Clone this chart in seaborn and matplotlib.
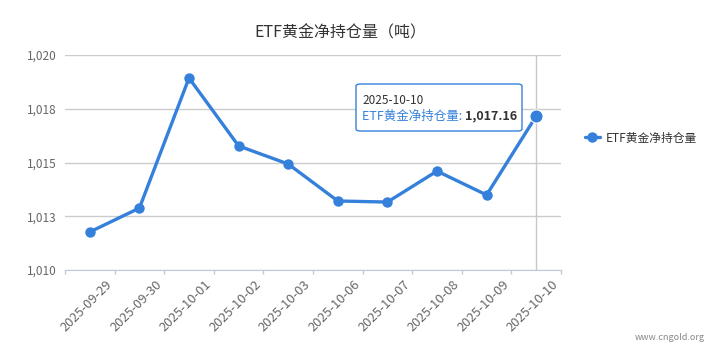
import numpy as np
import pandas as pd
import matplotlib
matplotlib.use("Agg")
import matplotlib.pyplot as plt
import seaborn as sns
from matplotlib.patches import FancyBboxPatch
from matplotlib.ticker import FuncFormatter

# --------------------------
# Data
# --------------------------

dates = [
    "2025-09-29", "2025-09-30", "2025-10-01", "2025-10-02", "2025-10-03",
    "2025-10-06", "2025-10-07", "2025-10-08", "2025-10-09", "2025-10-10",
]
holdings = [1011.77, 1012.88, 1018.93, 1015.77, 1014.93,
            1013.21, 1013.16, 1014.60, 1013.49, 1017.16]
y_ticks = [1010, 1012.5, 1015, 1017.5, 1020]

series_name = "ETF黄金净持仓量"
title = "ETF黄金净持仓量（吨）"

df = pd.DataFrame({"date": dates, "value": holdings})
df["pos"] = np.arange(len(df))

blue = "#3580db"
grid_c = "#cccccc"
axis_c = "#bfc9dc"
label_c = "#666666"

# --------------------------
# Figure
# --------------------------

sns.set_style("white")
plt.rcParams["font.family"] = ["Noto Sans CJK SC", "DejaVu Sans"]

W, H = 721, 355
fig = plt.figure(figsize=(W / 100, H / 100), dpi=100)
ax = fig.add_axes([65 / W, 1 - 270 / H, (561 - 65) / W, (270 - 55) / H])

# crosshair on hovered point
ax.axvline(df["pos"].iloc[-1], color="#c8c8c8", lw=1, zorder=1)

sns.lineplot(
    data=df, x="pos", y="value", ax=ax,
    color=blue, lw=2.4, marker="o", markersize=7.5,
    markeredgewidth=0, label=series_name, zorder=3,
)
# bigger hovered marker
ax.plot(df["pos"].iloc[-1], df["value"].iloc[-1], "o", color=blue,
        markersize=9.5, markeredgecolor="white", markeredgewidth=0.8, zorder=4)

ax.set_xlim(-0.5, len(df) - 0.5)
ax.set_ylim(y_ticks[0], y_ticks[-1])
ax.set_yticks(y_ticks)
ax.yaxis.set_major_formatter(FuncFormatter(lambda v, p: f"{round(v + 1e-9):,}"))
ax.grid(axis="y", color=grid_c, lw=1)
ax.set_axisbelow(True)

# category boundary ticks, labels end at right boundary
ax.set_xticks(np.arange(len(df) + 1) - 0.5)
ax.set_xticklabels([""] + dates, rotation=45, ha="right", va="bottom",
                   rotation_mode="anchor", fontsize=9.3, color=label_c)
ax.tick_params(axis="x", bottom=True, length=3, color=axis_c, width=1,
               direction="out", pad=9)
ax.tick_params(axis="y", length=0, labelsize=8.5, labelcolor=label_c, pad=6)
ax.set_xlabel("")
ax.set_ylabel("")

for s in ["top", "right", "left"]:
    ax.spines[s].set_visible(False)
ax.spines["bottom"].set_color(axis_c)

ax.get_legend().remove()
fig.legend(
    *ax.get_legend_handles_labels(),
    loc="center left", bbox_to_anchor=(574 / W, 1 - 138 / H),
    frameon=False, fontsize=8.5, handlelength=1.3, handletextpad=0.5,
    labelcolor="#333333",
)

fig.text(340 / W, 1 - 33 / H, title, ha="center", va="center",
         fontsize=11.5, color="#333333")
fig.text(705 / W, 1 - 337 / H, "www.cngold.org", ha="right", va="center",
         fontsize=6.5, color="#888888")

# --------------------------
# Tooltip
# --------------------------

box = FancyBboxPatch(
    (356 / W, 1 - 131 / H), (522 - 356) / W, (131 - 84) / H,
    boxstyle="round,pad=0,rounding_size=0.006",
    transform=fig.transFigure, facecolor="white", edgecolor=blue,
    lw=1, zorder=10,
)
fig.patches.append(box)
fig.text(362 / W, 1 - 100 / H, df["date"].iloc[-1], ha="left", va="center",
         fontsize=8.5, color="#333333", zorder=11)
t1 = fig.text(362 / W, 1 - 116 / H, series_name + ": ", ha="left",
              va="center", fontsize=9, color=blue, zorder=11)
fig.canvas.draw()
bb = t1.get_window_extent(renderer=fig.canvas.get_renderer())
fig.text(bb.x1 / W, 1 - 116 / H, f"{df['value'].iloc[-1]:,.2f}",
         ha="left", va="center", fontsize=9, fontweight="bold",
         color="#333333", zorder=11)

fig.savefig("out.png", dpi=100)
